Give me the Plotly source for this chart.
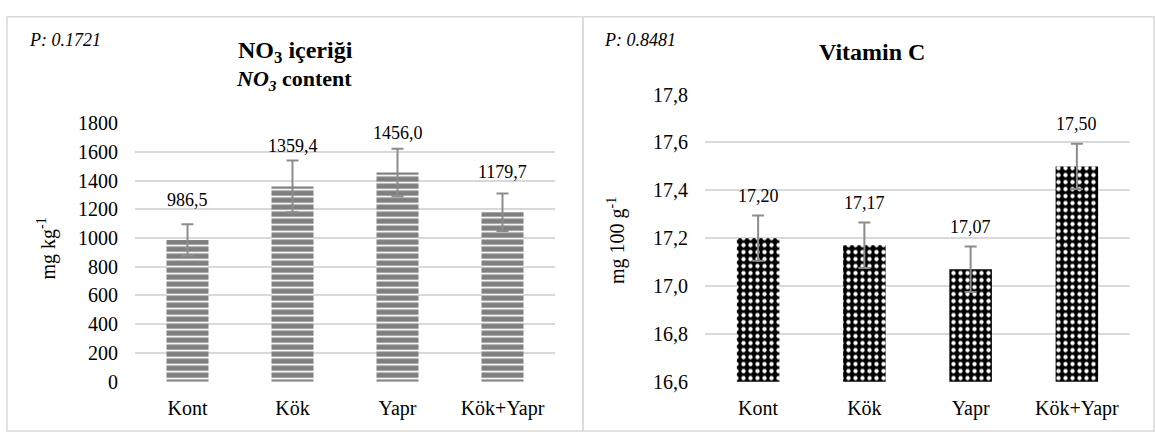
import plotly.graph_objects as go

# ---------------- data ----------------
categories = ["Kont", "Kök", "Yapr", "Kök+Yapr"]

no3_values = [986.5, 1359.4, 1456.0, 1179.7]
no3_errors = [110, 180, 165, 130]
no3_ticks = [0, 200, 400, 600, 800, 1000, 1200, 1400, 1600, 1800]
no3_tick_labels = ["0", "200", "400", "600", "800", "1000", "1200", "1400", "1600", "1800"]
no3_p = "P: 0.1721"

vitc_values = [17.20, 17.17, 17.07, 17.50]
vitc_errors = [0.095, 0.095, 0.095, 0.095]
vitc_ticks = [16.6, 16.8, 17.0, 17.2, 17.4, 17.6, 17.8]
vitc_tick_labels = ["16,6", "16,8", "17,0", "17,2", "17,4", "17,6", "17,8"]
vitc_p = "P: 0.8481"

# ---------------- layout helpers ----------------
W, H = 1155, 443
def px(x):
    return x / W
def py(y):
    return 1 - y / H

FONT = "Liberation Serif"
GRID = "#d9d9d9"

fig = go.Figure()

fig.add_trace(go.Bar(
    x=categories, y=no3_values, xaxis="x", yaxis="y",
    marker=dict(color="#7f7f7f", line=dict(width=0),
                pattern=dict(shape="-", fgcolor="white", bgcolor="#7f7f7f",
                             size=7, solidity=0.25, fillmode="replace")),
    error_y=dict(type="data", array=no3_errors, visible=True,
                 color="#8c8c8c", thickness=2, width=6),
    showlegend=False, hoverinfo="skip",
))

fig.add_trace(go.Bar(
    x=categories, y=vitc_values, xaxis="x2", yaxis="y2",
    marker=dict(color="black", line=dict(width=0),
                pattern=dict(shape=".", fgcolor="white", bgcolor="black",
                             size=7, solidity=0.3, fillmode="replace")),
    error_y=dict(type="data", array=vitc_errors, visible=True,
                 color="#8c8c8c", thickness=2, width=6),
    showlegend=False, hoverinfo="skip",
))

annotations = []
for c, v in zip(categories, no3_values):
    annotations.append(dict(x=c, y=v, xref="x", yref="y",
                            text=f"{v:.1f}".replace(".", ","),
                            showarrow=False, yshift=40, yanchor="middle",
                            font=dict(family=FONT, size=18, color="black")))
for c, v in zip(categories, vitc_values):
    annotations.append(dict(x=c, y=v, xref="x2", yref="y2",
                            text=f"{v:.2f}".replace(".", ","),
                            showarrow=False, yshift=42, yanchor="middle",
                            font=dict(family=FONT, size=18, color="black")))

# titles, p-values and axis titles
annotations += [
    dict(x=px(295), y=py(43), xref="paper", yref="paper", showarrow=False,
         text="<b>NO<sub>3</sub> içeriği</b>", xanchor="center", yanchor="middle",
         font=dict(family=FONT, size=24, color="black")),
    dict(x=px(294), y=py(73), xref="paper", yref="paper", showarrow=False,
         text="<b><i>NO<sub>3</sub></i> content</b>", xanchor="center", yanchor="middle",
         font=dict(family=FONT, size=22, color="black")),
    dict(x=px(872), y=py(43), xref="paper", yref="paper", showarrow=False,
         text="<b>Vitamin C</b>", xanchor="center", yanchor="middle",
         font=dict(family=FONT, size=24, color="black")),
    dict(x=px(27), y=py(30), xref="paper", yref="paper", showarrow=False,
         text=f"<i>{no3_p}</i>", xanchor="left", yanchor="middle",
         font=dict(family=FONT, size=18, color="black")),
    dict(x=px(602), y=py(30), xref="paper", yref="paper", showarrow=False,
         text=f"<i>{vitc_p}</i>", xanchor="left", yanchor="middle",
         font=dict(family=FONT, size=18, color="black")),
    dict(x=px(47), y=py(250), xref="paper", yref="paper", showarrow=False,
         text="mg kg<sup>-1</sup>", textangle=-90, xanchor="center", yanchor="middle",
         font=dict(family=FONT, size=20, color="black")),
    dict(x=px(617), y=py(242), xref="paper", yref="paper", showarrow=False,
         text="mg 100 g<sup>-1</sup>", textangle=-90, xanchor="center", yanchor="middle",
         font=dict(family=FONT, size=20, color="black")),
]

shapes = [
    dict(type="rect", xref="paper", yref="paper",
         x0=px(7), x1=px(583), y0=py(442), y1=py(6),
         line=dict(color=GRID, width=1.5), fillcolor="rgba(0,0,0,0)", layer="below"),
    dict(type="rect", xref="paper", yref="paper",
         x0=px(583), x1=px(1154), y0=py(442), y1=py(6),
         line=dict(color=GRID, width=1.5), fillcolor="rgba(0,0,0,0)", layer="below"),
]

tickfont = dict(family=FONT, size=20, color="black")

fig.update_layout(
    width=W, height=H,
    margin=dict(l=0, r=0, t=0, b=0),
    paper_bgcolor="white", plot_bgcolor="white",
    bargap=0.6,
    font=dict(family=FONT, color="black"),
    annotations=annotations,
    shapes=shapes,
    xaxis=dict(domain=[px(135), px(555)], anchor="y", showgrid=False, showline=False,
               zeroline=False, ticks="", tickfont=tickfont, ticklabelstandoff=12),
    yaxis=dict(domain=[py(390), py(118)], anchor="x", range=[0, 1800],
               tickvals=no3_ticks, ticktext=no3_tick_labels,
               showgrid=True, gridcolor=GRID, gridwidth=1.5, zeroline=False,
               showline=False, ticks="", tickfont=tickfont, ticklabelstandoff=16),
    xaxis2=dict(domain=[px(705), px(1130)], anchor="y2", showgrid=False, showline=False,
                zeroline=False, ticks="", tickfont=tickfont, ticklabelstandoff=12),
    yaxis2=dict(domain=[py(390), py(88)], anchor="x2", range=[16.6, 17.8],
                tickvals=vitc_ticks, ticktext=vitc_tick_labels,
                showgrid=True, gridcolor=GRID, gridwidth=1.5, zeroline=False,
                showline=False, ticks="", tickfont=tickfont, ticklabelstandoff=16),
)

fig.write_html("out.html", config={"displayModeBar": False},
               post_script="document.body.style.margin='0px';document.body.style.overflow='hidden';")
